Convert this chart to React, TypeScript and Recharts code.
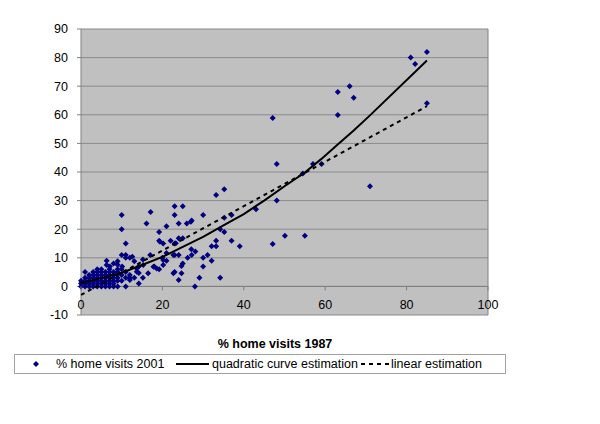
import React from "react";
import { CartesianGrid, ReferenceLine, Scatter, ScatterChart, XAxis, YAxis, ZAxis } from "recharts";

const FONT = '"Liberation Sans", Arial, sans-serif';

// % home visits 1987 (x) vs % home visits 2001 (y)
const clusterPoints: [number, number][] = [
  [0, 0], [1, 0], [2, 0], [3, 0], [4, 0], [5, 0], [6, 0], [7, 0], [8, 0], [9, 0],
  [0, 1], [1, 1], [2, 1], [3, 1], [4, 1], [5, 1], [6, 1], [7, 1], [8, 1],
  [0, 2], [1, 2], [2, 2], [3, 2], [4, 2], [5, 2], [6, 2], [7, 2], [8, 2], [9, 2],
  [1, 3], [2, 3], [3, 3], [4, 3], [5, 3], [6, 3], [7, 3], [8, 3], [9, 3],
  [2, 4], [3, 4], [4, 4], [5, 4], [6, 4], [7, 4], [8, 4],
  [1, 5], [3, 5], [4, 5], [5, 5], [6, 5], [7, 5], [8, 5], [9, 5],
  [4, 6], [5, 6], [7, 6], [9, 6], [6.3, 9], [6.3, 7.5], [8, 8], [9, 8.8], [9, 7.6], [7.1, 7],
];

const midPoints: [number, number][] = [
  [10, 25], [10, 20], [17.1, 26], [16.1, 22], [19.2, 19], [19.2, 16], [21, 21], [20.2, 15], [11, 15],
  [23, 28], [25, 28], [23, 25], [24, 22], [26, 22], [27, 22.6], [27.2, 23],
  [22, 16], [23, 15], [24, 16.8], [25, 16.8], [23.3, 15.1], [19.4, 15.6],
  [30, 25], [33.2, 32], [35.2, 34], [35.2, 24], [37, 25], [37, 16], [39, 14], [35.2, 19], [34.2, 20],
  [33.2, 16], [32.1, 14], [33.2, 14], [34.2, 3], [30, 10], [31.1, 11], [30, 7], [32.1, 9], [29.1, 3], [28, 0],
  [27.1, 13], [28.1, 12.2], [26.2, 10], [27.2, 11], [25, 8], [24.7, 7.1], [24, 11], [23, 11], [22.7, 11],
  [23, 5], [24, 2.2], [22.7, 4.6], [24.7, 4.6],
  [21, 11.7], [21, 9], [20, 10], [20.2, 9.2], [20.2, 7.5], [18, 7], [19.2, 6], [18.6, 6.3], [17.8, 6.9],
  [17, 11], [15.3, 7.5], [15.2, 9.4], [14.2, 7], [14.2, 4.7], [13.1, 8.8], [14.2, 1], [15.2, 3], [13.1, 3],
  [12, 3], [12.6, 10.4], [13.7, 6.3], [13.7, 5.1], [16.5, 4.6], [12, 2.2],
  [10, 11], [11, 11], [11, 10], [12, 10], [11, 0], [10, 6], [10.1, 7], [10, 4], [11, 5], [12, 4], [10, 2], [11, 3],
];

const upperPoints: [number, number][] = [
  [43, 27], [48.1, 30], [48.1, 42.8], [47.1, 58.9], [47.1, 14.8], [50.1, 17.7], [55, 17.7], [54.5, 39.5],
  [57, 42.8], [59.1, 42.8], [63.1, 59.9], [63.1, 68], [66, 70], [67, 66], [71, 35],
  [81, 80], [82.1, 77.8], [85, 82], [85, 64],
];

const quadX = [0, 5, 10, 15, 20, 25, 30, 35, 40, 45, 50, 55, 59, 63, 67, 71, 85];
const quadY = [1.2, 2.9, 4.8, 7.5, 10.3, 13.8, 17.3, 21.3, 25.3, 30, 35, 39.8, 44.5, 49.5, 54.5, 59.8, 79];

const linX = [0, 85];
const linY = [-3, 63];

const xTicks = [0, 20, 40, 60, 80, 100];
const yTicks = [-10, 0, 10, 20, 30, 40, 50, 60, 70, 80, 90];

const visits = [...clusterPoints, ...midPoints, ...upperPoints].map(([x, y]) => ({ x, y }));
const quadData = quadX.map((x, i) => ({ x, y: quadY[i] }));
const linData = linX.map((x, i) => ({ x, y: linY[i] }));

const Diamond = (p: any) => {
  const { cx, cy } = p;
  if (cx == null || cy == null) return <g />;
  return <polygon points={`${cx},${cy - 3} ${cx + 3},${cy} ${cx},${cy + 3} ${cx - 3},${cy}`} fill="#000080" />;
};

const NoDot = () => <g />;

const XTick = (p: any) => {
  const { x, y, payload } = p;
  // axis sits at y = 0, i.e. 10 units (28.6px) above the plot bottom
  const zero = y - 28.6;
  return (
    <g>
      <line x1={x} x2={x} y1={zero} y2={zero + 4} stroke="#808080" />
      <text x={x} y={y - 10} textAnchor="middle" dominantBaseline="central" fontSize={12.5} fill="#000" fontFamily={FONT}>
        {payload.value}
      </text>
    </g>
  );
};

function LegendBox() {
  return (
    <div
      style={{
        position: "absolute", left: 14, top: 354, width: 490, height: 18,
        border: "1px solid #a0a0a0", fontFamily: FONT, fontSize: 12.5, color: "#000", background: "#fff",
      }}
    >
      <svg width={490} height={18} style={{ position: "absolute", left: 0, top: 0 }}>
        <polygon points="21,6 24,9 21,12 18,9" fill="#000080" />
        <line x1={161} x2={194} y1={9} y2={9} stroke="#000" strokeWidth={2} />
        <line x1={346} x2={374} y1={9} y2={9} stroke="#000" strokeWidth={2} strokeDasharray="4 4" />
      </svg>
      <span style={{ position: "absolute", left: 41, top: 1, lineHeight: "16px" }}>% home visits 2001</span>
      <span style={{ position: "absolute", left: 197, top: 1, lineHeight: "16px" }}>quadratic curve estimation</span>
      <span style={{ position: "absolute", left: 376, top: 1, lineHeight: "16px" }}>linear estimation</span>
    </div>
  );
}

export default function App() {
  return (
    <div style={{ position: "absolute", left: 0, top: 0, width: 600, height: 424, background: "#fff", fontFamily: FONT }}>
      <ScatterChart width={600} height={424} margin={{ top: 29, right: 112, bottom: 79, left: 0 }}>
        <CartesianGrid horizontal vertical={false} fill="#C0C0C0" stroke="#8a8a8a" />
        <XAxis
          type="number" dataKey="x" domain={[0, 100]} ticks={xTicks} interval={0}
          axisLine={false} tickLine={false} tickSize={0} tickMargin={0} height={30} tick={<XTick />}
        />
        <YAxis
          type="number" dataKey="y" domain={[-10, 90]} ticks={yTicks} interval={0} width={81}
          stroke="#808080" tickSize={4} tickMargin={9}
          tick={{ fill: "#000", fontSize: 12.5, fontFamily: FONT }}
        />
        <ZAxis range={[20, 20]} />
        <ReferenceLine x={100} stroke="#808080" />
        <ReferenceLine y={0} stroke="#808080" />
        <Scatter data={visits} shape={Diamond} isAnimationActive={false} />
        <Scatter data={quadData} shape={NoDot} line={{ stroke: "#000", strokeWidth: 2 }} isAnimationActive={false} />
        <Scatter
          data={linData} shape={NoDot}
          line={{ stroke: "#000", strokeWidth: 2, strokeDasharray: "4 4" }} isAnimationActive={false}
        />
      </ScatterChart>
      <div
        style={{
          position: "absolute", left: 175, width: 200, top: 336, textAlign: "center",
          fontWeight: "bold", fontSize: 12.5, lineHeight: "16px",
        }}
      >
        % home visits 1987
      </div>
      <LegendBox />
    </div>
  );
}
